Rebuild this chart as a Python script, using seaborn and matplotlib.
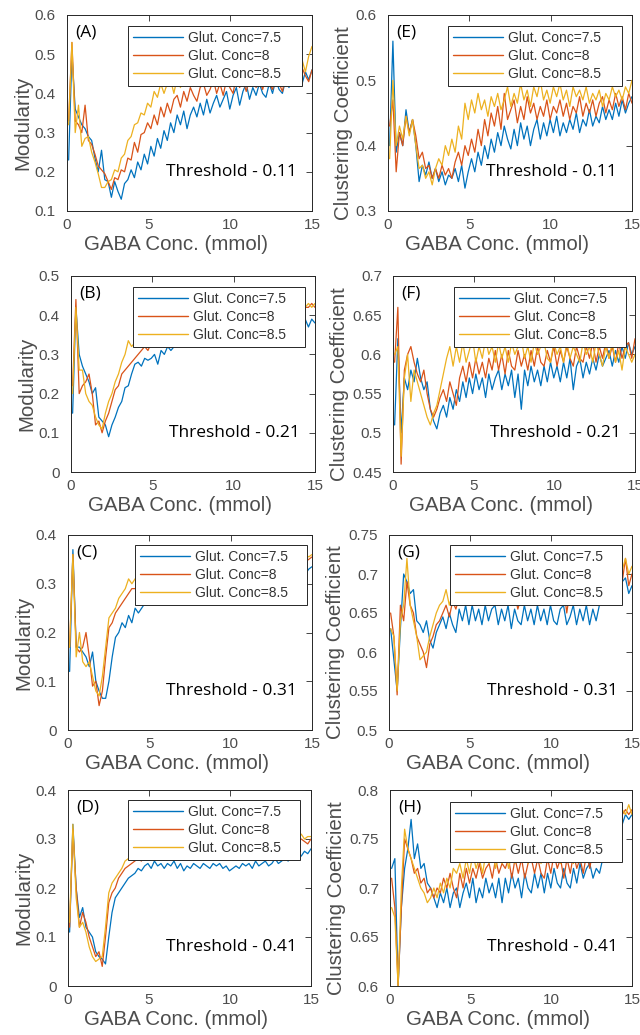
import numpy as np
import pandas as pd
import matplotlib
matplotlib.use("Agg")
import matplotlib.pyplot as plt
import seaborn as sns

sns.set_style("white")
plt.rcParams['font.family'] = ['Liberation Sans', 'DejaVu Sans']

# GABA concentration grid (mmol)
gaba = np.linspace(0.1, 15.0, 75)
glut_labels = ['Glut. Conc=7.5', 'Glut. Conc=8', 'Glut. Conc=8.5']
colors = ['#0072BD', '#D95319', '#EDB120']

# ---- Modularity, threshold 0.11 (A)
mod_011_75 = [0.23, 0.50, 0.36, 0.34, 0.32, 0.31, 0.29, 0.28, 0.235, 0.20, 0.255, 0.18, 0.175, 0.135, 0.175,
              0.15, 0.13, 0.17, 0.18, 0.205, 0.185, 0.225, 0.205, 0.245, 0.22, 0.265, 0.24, 0.285, 0.26, 0.305,
              0.28, 0.325, 0.30, 0.345, 0.32, 0.355, 0.31, 0.345, 0.365, 0.34, 0.375, 0.345, 0.385, 0.35, 0.375,
              0.395, 0.365, 0.385, 0.405, 0.36, 0.395, 0.415, 0.37, 0.405, 0.425, 0.385, 0.415, 0.395, 0.425, 0.40,
              0.39, 0.425, 0.40, 0.435, 0.41, 0.40, 0.435, 0.415, 0.445, 0.42, 0.445, 0.425, 0.455, 0.435, 0.46]
mod_011_80 = [0.33, 0.53, 0.33, 0.32, 0.30, 0.37, 0.28, 0.27, 0.245, 0.215, 0.205, 0.195, 0.175, 0.155, 0.185,
              0.18, 0.205, 0.20, 0.235, 0.23, 0.275, 0.25, 0.295, 0.30, 0.325, 0.31, 0.345, 0.32, 0.365, 0.34,
              0.375, 0.35, 0.385, 0.395, 0.365, 0.405, 0.38, 0.415, 0.395, 0.38, 0.415, 0.425, 0.395, 0.41, 0.435,
              0.40, 0.425, 0.395, 0.435, 0.415, 0.40, 0.445, 0.415, 0.435, 0.405, 0.435, 0.445, 0.415, 0.435, 0.41,
              0.445, 0.425, 0.41, 0.445, 0.425, 0.405, 0.445, 0.425, 0.455, 0.435, 0.42, 0.465, 0.445, 0.43, 0.46]
mod_011_85 = [0.32, 0.53, 0.30, 0.37, 0.265, 0.285, 0.29, 0.25, 0.225, 0.195, 0.16, 0.16, 0.175, 0.18, 0.205,
              0.20, 0.235, 0.245, 0.28, 0.29, 0.32, 0.325, 0.35, 0.345, 0.375, 0.365, 0.405, 0.39, 0.425, 0.40,
              0.425, 0.435, 0.40, 0.44, 0.415, 0.445, 0.42, 0.455, 0.435, 0.42, 0.465, 0.435, 0.455, 0.475, 0.43,
              0.465, 0.44, 0.43, 0.475, 0.44, 0.465, 0.435, 0.475, 0.44, 0.465, 0.485, 0.44, 0.475, 0.45, 0.44,
              0.475, 0.45, 0.485, 0.44, 0.475, 0.455, 0.485, 0.46, 0.45, 0.495, 0.465, 0.485, 0.455, 0.495, 0.52]

# ---- Clustering coefficient, threshold 0.11 (E)
cc_011_75 = [0.40, 0.56, 0.39, 0.42, 0.40, 0.455, 0.42, 0.44, 0.40, 0.345, 0.37, 0.355, 0.375, 0.35, 0.365,
             0.345, 0.36, 0.34, 0.355, 0.35, 0.365, 0.345, 0.37, 0.335, 0.36, 0.38, 0.36, 0.39, 0.37, 0.40,
             0.38, 0.41, 0.39, 0.42, 0.40, 0.43, 0.41, 0.395, 0.425, 0.40, 0.435, 0.41, 0.43, 0.40, 0.425,
             0.44, 0.41, 0.435, 0.415, 0.44, 0.42, 0.445, 0.415, 0.435, 0.42, 0.44, 0.425, 0.45, 0.42, 0.44,
             0.43, 0.455, 0.43, 0.445, 0.435, 0.46, 0.44, 0.455, 0.44, 0.465, 0.445, 0.47, 0.45, 0.465, 0.475]
cc_011_80 = [0.43, 0.47, 0.36, 0.42, 0.40, 0.445, 0.42, 0.44, 0.415, 0.38, 0.39, 0.365, 0.37, 0.35, 0.365,
             0.35, 0.37, 0.355, 0.365, 0.35, 0.375, 0.39, 0.37, 0.40, 0.385, 0.41, 0.39, 0.425, 0.40, 0.44,
             0.415, 0.45, 0.43, 0.46, 0.425, 0.48, 0.44, 0.455, 0.47, 0.435, 0.46, 0.44, 0.475, 0.45, 0.465,
             0.44, 0.46, 0.445, 0.47, 0.44, 0.46, 0.45, 0.47, 0.445, 0.465, 0.44, 0.46, 0.45, 0.475, 0.445,
             0.465, 0.45, 0.47, 0.445, 0.465, 0.475, 0.45, 0.47, 0.455, 0.48, 0.46, 0.475, 0.455, 0.48, 0.465]
cc_011_85 = [0.38, 0.50, 0.40, 0.43, 0.41, 0.445, 0.415, 0.44, 0.40, 0.365, 0.37, 0.35, 0.36, 0.34, 0.365,
             0.38, 0.37, 0.40, 0.385, 0.41, 0.39, 0.43, 0.41, 0.465, 0.44, 0.47, 0.45, 0.48, 0.455, 0.47,
             0.445, 0.475, 0.46, 0.48, 0.455, 0.47, 0.49, 0.46, 0.48, 0.465, 0.495, 0.47, 0.485, 0.46, 0.49,
             0.475, 0.50, 0.47, 0.485, 0.465, 0.49, 0.475, 0.495, 0.47, 0.485, 0.46, 0.49, 0.475, 0.485, 0.47,
             0.49, 0.465, 0.48, 0.47, 0.485, 0.46, 0.48, 0.47, 0.49, 0.475, 0.485, 0.47, 0.49, 0.48, 0.50]

# ---- Modularity, threshold 0.21 (B)
mod_021_75 = [0.15, 0.42, 0.30, 0.27, 0.25, 0.23, 0.20, 0.215, 0.14, 0.13, 0.12, 0.09, 0.12, 0.14, 0.165,
              0.18, 0.215, 0.22, 0.25, 0.275, 0.28, 0.27, 0.29, 0.285, 0.29, 0.30, 0.275, 0.31, 0.30, 0.32,
              0.31, 0.32, 0.33, 0.32, 0.33, 0.34, 0.33, 0.34, 0.35, 0.34, 0.35, 0.34, 0.35, 0.36, 0.35,
              0.36, 0.35, 0.36, 0.37, 0.36, 0.37, 0.36, 0.37, 0.36, 0.37, 0.38, 0.37, 0.36, 0.38, 0.37,
              0.38, 0.37, 0.38, 0.37, 0.38, 0.39, 0.38, 0.37, 0.38, 0.39, 0.38, 0.39, 0.37, 0.39, 0.38]
mod_021_80 = [0.22, 0.44, 0.20, 0.22, 0.23, 0.25, 0.20, 0.12, 0.13, 0.10, 0.13, 0.15, 0.18, 0.21, 0.22,
              0.25, 0.26, 0.27, 0.28, 0.29, 0.30, 0.31, 0.32, 0.31, 0.33, 0.33, 0.34, 0.35, 0.34, 0.36,
              0.35, 0.36, 0.37, 0.36, 0.37, 0.38, 0.37, 0.38, 0.39, 0.38, 0.39, 0.38, 0.39, 0.40, 0.39,
              0.40, 0.39, 0.40, 0.41, 0.40, 0.41, 0.40, 0.41, 0.40, 0.41, 0.42, 0.41, 0.40, 0.41, 0.42,
              0.41, 0.42, 0.41, 0.42, 0.41, 0.42, 0.43, 0.42, 0.41, 0.42, 0.43, 0.42, 0.42, 0.43, 0.42]
mod_021_85 = [0.20, 0.42, 0.26, 0.26, 0.20, 0.18, 0.17, 0.14, 0.12, 0.11, 0.15, 0.18, 0.20, 0.23, 0.25,
              0.28, 0.30, 0.335, 0.32, 0.33, 0.34, 0.33, 0.35, 0.34, 0.36, 0.35, 0.37, 0.36, 0.37, 0.38,
              0.37, 0.38, 0.39, 0.38, 0.39, 0.40, 0.39, 0.40, 0.39, 0.41, 0.40, 0.41, 0.40, 0.41, 0.42,
              0.41, 0.40, 0.41, 0.42, 0.41, 0.42, 0.41, 0.42, 0.43, 0.42, 0.41, 0.42, 0.43, 0.42, 0.43,
              0.42, 0.43, 0.42, 0.43, 0.42, 0.43, 0.42, 0.43, 0.43, 0.42, 0.43, 0.42, 0.43, 0.42, 0.43]

# ---- Clustering coefficient, threshold 0.21 (F)
cc_021_75 = [0.51, 0.62, 0.50, 0.57, 0.555, 0.58, 0.565, 0.595, 0.57, 0.555, 0.565, 0.53, 0.515, 0.505, 0.525,
             0.535, 0.52, 0.545, 0.53, 0.555, 0.54, 0.565, 0.545, 0.57, 0.55, 0.575, 0.555, 0.57, 0.545, 0.575,
             0.555, 0.57, 0.58, 0.555, 0.575, 0.56, 0.58, 0.545, 0.575, 0.53, 0.58, 0.56, 0.585, 0.565, 0.58,
             0.56, 0.585, 0.565, 0.59, 0.57, 0.585, 0.565, 0.59, 0.57, 0.595, 0.555, 0.585, 0.595, 0.57, 0.59,
             0.575, 0.595, 0.58, 0.60, 0.585, 0.595, 0.605, 0.585, 0.605, 0.59, 0.61, 0.595, 0.615, 0.60, 0.61]
cc_021_80 = [0.59, 0.66, 0.46, 0.58, 0.60, 0.61, 0.59, 0.575, 0.565, 0.58, 0.55, 0.53, 0.52, 0.53, 0.545,
             0.555, 0.54, 0.565, 0.55, 0.535, 0.57, 0.585, 0.565, 0.59, 0.57, 0.595, 0.575, 0.59, 0.57, 0.595,
             0.58, 0.605, 0.58, 0.60, 0.575, 0.605, 0.585, 0.58, 0.605, 0.585, 0.60, 0.58, 0.605, 0.585, 0.61,
             0.59, 0.585, 0.605, 0.59, 0.61, 0.585, 0.605, 0.59, 0.61, 0.595, 0.585, 0.61, 0.595, 0.59, 0.61,
             0.595, 0.615, 0.59, 0.61, 0.595, 0.615, 0.595, 0.61, 0.59, 0.615, 0.595, 0.61, 0.615, 0.595, 0.62]
cc_021_85 = [0.60, 0.61, 0.47, 0.57, 0.60, 0.54, 0.58, 0.565, 0.55, 0.535, 0.52, 0.51, 0.525, 0.535, 0.555,
             0.575, 0.595, 0.61, 0.585, 0.61, 0.59, 0.615, 0.59, 0.605, 0.62, 0.59, 0.61, 0.595, 0.62, 0.60,
             0.61, 0.59, 0.615, 0.595, 0.61, 0.59, 0.615, 0.60, 0.61, 0.62, 0.595, 0.61, 0.59, 0.615, 0.60,
             0.61, 0.615, 0.595, 0.59, 0.615, 0.60, 0.61, 0.59, 0.615, 0.595, 0.61, 0.60, 0.59, 0.615, 0.60,
             0.61, 0.59, 0.615, 0.60, 0.585, 0.61, 0.595, 0.615, 0.59, 0.605, 0.58, 0.61, 0.60, 0.59, 0.60]

# ---- Modularity, threshold 0.31 (C)
mod_031_75 = [0.12, 0.37, 0.17, 0.17, 0.16, 0.15, 0.13, 0.16, 0.10, 0.08, 0.065, 0.065, 0.10, 0.15, 0.19,
              0.20, 0.22, 0.21, 0.235, 0.22, 0.25, 0.24, 0.25, 0.26, 0.27, 0.28, 0.27, 0.28, 0.29, 0.28,
              0.29, 0.30, 0.29, 0.30, 0.31, 0.30, 0.31, 0.30, 0.31, 0.32, 0.31, 0.30, 0.31, 0.32, 0.31,
              0.32, 0.31, 0.32, 0.33, 0.32, 0.31, 0.32, 0.33, 0.32, 0.33, 0.32, 0.33, 0.32, 0.33, 0.34,
              0.33, 0.32, 0.33, 0.34, 0.33, 0.34, 0.33, 0.34, 0.33, 0.34, 0.33, 0.34, 0.32, 0.33, 0.335]
mod_031_80 = [0.17, 0.36, 0.17, 0.16, 0.17, 0.20, 0.15, 0.09, 0.10, 0.05, 0.08, 0.15, 0.21, 0.22, 0.24,
              0.25, 0.26, 0.27, 0.28, 0.29, 0.29, 0.30, 0.31, 0.30, 0.31, 0.32, 0.31, 0.32, 0.33, 0.32,
              0.33, 0.32, 0.33, 0.34, 0.33, 0.34, 0.33, 0.34, 0.33, 0.34, 0.35, 0.34, 0.33, 0.34, 0.35,
              0.34, 0.35, 0.34, 0.35, 0.34, 0.35, 0.36, 0.35, 0.34, 0.35, 0.36, 0.35, 0.34, 0.35, 0.36,
              0.35, 0.34, 0.35, 0.36, 0.35, 0.36, 0.35, 0.36, 0.35, 0.34, 0.35, 0.36, 0.345, 0.35, 0.355]
mod_031_85 = [0.17, 0.36, 0.15, 0.20, 0.14, 0.13, 0.14, 0.11, 0.08, 0.07, 0.11, 0.17, 0.23, 0.24, 0.25,
              0.27, 0.28, 0.29, 0.31, 0.30, 0.31, 0.32, 0.31, 0.32, 0.33, 0.32, 0.33, 0.34, 0.33, 0.34,
              0.33, 0.34, 0.35, 0.34, 0.35, 0.34, 0.35, 0.36, 0.35, 0.34, 0.35, 0.36, 0.35, 0.36, 0.35,
              0.36, 0.35, 0.36, 0.35, 0.36, 0.37, 0.36, 0.35, 0.36, 0.37, 0.36, 0.35, 0.36, 0.37, 0.36,
              0.36, 0.37, 0.36, 0.35, 0.36, 0.37, 0.36, 0.37, 0.36, 0.35, 0.36, 0.37, 0.36, 0.355, 0.36]

# ---- Clustering coefficient, threshold 0.31 (G)
cc_031_75 = [0.63, 0.59, 0.55, 0.63, 0.70, 0.69, 0.675, 0.68, 0.64, 0.635, 0.625, 0.64, 0.615, 0.605, 0.625,
             0.635, 0.645, 0.63, 0.65, 0.635, 0.625, 0.655, 0.64, 0.66, 0.635, 0.66, 0.64, 0.655, 0.635, 0.66,
             0.64, 0.655, 0.66, 0.635, 0.655, 0.64, 0.66, 0.63, 0.655, 0.64, 0.635, 0.66, 0.64, 0.655, 0.635,
             0.66, 0.64, 0.655, 0.635, 0.66, 0.64, 0.635, 0.655, 0.66, 0.635, 0.645, 0.66, 0.635, 0.655, 0.64,
             0.66, 0.635, 0.655, 0.64, 0.66, 0.665, 0.675, 0.66, 0.68, 0.665, 0.685, 0.69, 0.695, 0.675, 0.685]
cc_031_80 = [0.65, 0.62, 0.545, 0.66, 0.64, 0.69, 0.66, 0.65, 0.62, 0.61, 0.60, 0.58, 0.61, 0.62, 0.635,
             0.64, 0.65, 0.66, 0.645, 0.665, 0.655, 0.67, 0.66, 0.67, 0.675, 0.66, 0.67, 0.675, 0.665, 0.66,
             0.675, 0.665, 0.68, 0.67, 0.66, 0.675, 0.68, 0.665, 0.675, 0.655, 0.67, 0.68, 0.67, 0.665, 0.68,
             0.67, 0.685, 0.665, 0.68, 0.67, 0.685, 0.675, 0.67, 0.685, 0.65, 0.68, 0.685, 0.67, 0.69, 0.675,
             0.685, 0.67, 0.69, 0.675, 0.685, 0.69, 0.675, 0.695, 0.68, 0.69, 0.70, 0.69, 0.72, 0.685, 0.70]
cc_031_85 = [0.63, 0.62, 0.55, 0.64, 0.66, 0.72, 0.66, 0.64, 0.62, 0.59, 0.595, 0.60, 0.62, 0.635, 0.65,
             0.66, 0.665, 0.68, 0.66, 0.675, 0.67, 0.685, 0.67, 0.68, 0.69, 0.675, 0.67, 0.69, 0.675, 0.69,
             0.68, 0.675, 0.695, 0.68, 0.675, 0.695, 0.68, 0.70, 0.675, 0.69, 0.68, 0.695, 0.70, 0.68, 0.69,
             0.70, 0.68, 0.695, 0.70, 0.685, 0.705, 0.68, 0.70, 0.685, 0.705, 0.69, 0.685, 0.705, 0.69, 0.70,
             0.69, 0.705, 0.685, 0.71, 0.69, 0.70, 0.71, 0.69, 0.70, 0.715, 0.68, 0.705, 0.72, 0.70, 0.71]

# ---- Modularity, threshold 0.41 (D)
mod_041_75 = [0.11, 0.33, 0.20, 0.14, 0.16, 0.12, 0.11, 0.10, 0.07, 0.06, 0.055, 0.045, 0.10, 0.15, 0.18,
              0.19, 0.20, 0.21, 0.22, 0.225, 0.23, 0.24, 0.235, 0.245, 0.25, 0.24, 0.255, 0.245, 0.25, 0.24,
              0.25, 0.245, 0.255, 0.24, 0.25, 0.235, 0.245, 0.24, 0.25, 0.245, 0.24, 0.25, 0.245, 0.24, 0.25,
              0.245, 0.25, 0.24, 0.245, 0.235, 0.24, 0.245, 0.24, 0.25, 0.245, 0.25, 0.24, 0.255, 0.245, 0.25,
              0.255, 0.245, 0.25, 0.26, 0.25, 0.255, 0.26, 0.255, 0.265, 0.26, 0.27, 0.265, 0.275, 0.27, 0.28]
mod_041_80 = [0.12, 0.32, 0.20, 0.12, 0.15, 0.13, 0.10, 0.08, 0.06, 0.07, 0.04, 0.10, 0.17, 0.19, 0.20,
              0.22, 0.23, 0.24, 0.245, 0.25, 0.255, 0.26, 0.255, 0.265, 0.26, 0.27, 0.265, 0.27, 0.275, 0.27,
              0.275, 0.27, 0.28, 0.275, 0.27, 0.28, 0.275, 0.28, 0.27, 0.28, 0.285, 0.275, 0.28, 0.285, 0.28,
              0.285, 0.28, 0.29, 0.285, 0.28, 0.29, 0.285, 0.29, 0.28, 0.29, 0.285, 0.29, 0.295, 0.285, 0.29,
              0.295, 0.29, 0.285, 0.295, 0.29, 0.30, 0.29, 0.295, 0.30, 0.29, 0.295, 0.30, 0.295, 0.29, 0.30]
mod_041_85 = [0.13, 0.33, 0.18, 0.12, 0.13, 0.11, 0.08, 0.06, 0.05, 0.055, 0.06, 0.12, 0.19, 0.21, 0.22,
              0.23, 0.24, 0.255, 0.26, 0.265, 0.26, 0.27, 0.265, 0.275, 0.27, 0.28, 0.275, 0.28, 0.285, 0.28,
              0.285, 0.28, 0.29, 0.285, 0.28, 0.29, 0.285, 0.29, 0.295, 0.285, 0.29, 0.295, 0.29, 0.285, 0.295,
              0.29, 0.295, 0.29, 0.30, 0.29, 0.295, 0.30, 0.29, 0.295, 0.30, 0.295, 0.29, 0.30, 0.295, 0.30,
              0.295, 0.30, 0.295, 0.305, 0.295, 0.30, 0.305, 0.295, 0.30, 0.305, 0.30, 0.31, 0.30, 0.305, 0.305]

# ---- Clustering coefficient, threshold 0.41 (H)
cc_041_75 = [0.72, 0.73, 0.60, 0.68, 0.72, 0.74, 0.77, 0.73, 0.745, 0.72, 0.725, 0.705, 0.70, 0.69, 0.68,
             0.695, 0.685, 0.70, 0.68, 0.695, 0.70, 0.68, 0.695, 0.705, 0.69, 0.71, 0.685, 0.70, 0.69, 0.71,
             0.695, 0.705, 0.69, 0.71, 0.685, 0.71, 0.695, 0.715, 0.70, 0.71, 0.69, 0.715, 0.70, 0.695, 0.715,
             0.70, 0.715, 0.695, 0.715, 0.70, 0.72, 0.705, 0.70, 0.72, 0.705, 0.70, 0.72, 0.705, 0.725, 0.71,
             0.72, 0.725, 0.71, 0.72, 0.715, 0.73, 0.735, 0.74, 0.75, 0.755, 0.76, 0.765, 0.775, 0.77, 0.775]
cc_041_80 = [0.71, 0.68, 0.60, 0.68, 0.75, 0.74, 0.73, 0.715, 0.72, 0.705, 0.71, 0.695, 0.70, 0.69, 0.70,
             0.695, 0.71, 0.70, 0.715, 0.70, 0.69, 0.715, 0.70, 0.72, 0.705, 0.72, 0.71, 0.725, 0.71, 0.72,
             0.725, 0.71, 0.73, 0.715, 0.725, 0.72, 0.73, 0.71, 0.73, 0.715, 0.73, 0.71, 0.725, 0.73, 0.715,
             0.73, 0.715, 0.71, 0.73, 0.715, 0.735, 0.72, 0.73, 0.71, 0.73, 0.715, 0.735, 0.72, 0.73, 0.715,
             0.735, 0.72, 0.74, 0.73, 0.745, 0.735, 0.75, 0.75, 0.76, 0.76, 0.77, 0.775, 0.78, 0.775, 0.78]
cc_041_85 = [0.68, 0.67, 0.60, 0.70, 0.76, 0.74, 0.73, 0.72, 0.71, 0.70, 0.695, 0.685, 0.69, 0.70, 0.69,
             0.705, 0.695, 0.71, 0.70, 0.72, 0.715, 0.725, 0.71, 0.73, 0.715, 0.735, 0.72, 0.73, 0.715, 0.735,
             0.725, 0.74, 0.72, 0.735, 0.725, 0.74, 0.72, 0.735, 0.725, 0.74, 0.73, 0.745, 0.725, 0.74, 0.73,
             0.745, 0.725, 0.74, 0.73, 0.745, 0.73, 0.74, 0.725, 0.745, 0.73, 0.74, 0.725, 0.745, 0.73, 0.74,
             0.735, 0.745, 0.73, 0.75, 0.74, 0.755, 0.75, 0.76, 0.765, 0.77, 0.775, 0.78, 0.775, 0.785, 0.775]

W, H = 640, 1035
fig = plt.figure(figsize=(W / 100, H / 100), dpi=100)

def px_axes(left, right, top, bottom):
    return fig.add_axes([left / W, 1 - bottom / H, (right - left) / W, (bottom - top) / H])

# (panel letter, series, ylabel, ylim, yticks, threshold, axes box px, legend box px)
panels = [
    ('(A)', [mod_011_75, mod_011_80, mod_011_85], 'Modularity', (0.1, 0.6), np.arange(0.1, 0.61, 0.1), '0.11',
     (67, 312, 15, 211), (128, 302, 26)),
    ('(E)', [cc_011_75, cc_011_80, cc_011_85], 'Clustering Coefficient', (0.3, 0.6), np.arange(0.3, 0.61, 0.1), '0.11',
     (388, 632, 15, 211), (448, 622, 26)),
    ('(B)', [mod_021_75, mod_021_80, mod_021_85], 'Modularity', (0, 0.5), np.arange(0, 0.51, 0.1), '0.21',
     (71, 315, 276, 472), (133, 305, 287)),
    ('(F)', [cc_021_75, cc_021_80, cc_021_85], 'Clustering Coefficient', (0.45, 0.7), np.arange(0.45, 0.71, 0.05), '0.21',
     (393, 635, 276, 472), (454, 626, 287)),
    ('(C)', [mod_031_75, mod_031_80, mod_031_85], 'Modularity', (0, 0.4), np.arange(0, 0.41, 0.1), '0.31',
     (68, 312, 535, 730), (135, 307, 545)),
    ('(G)', [cc_031_75, cc_031_80, cc_031_85], 'Clustering Coefficient', (0.5, 0.75), np.arange(0.5, 0.76, 0.05), '0.31',
     (389, 632, 535, 730), (450, 622, 545)),
    ('(D)', [mod_041_75, mod_041_80, mod_041_85], 'Modularity', (0, 0.4), np.arange(0, 0.41, 0.1), '0.41',
     (68, 311, 790, 986), (128, 300, 800)),
    ('(H)', [cc_041_75, cc_041_80, cc_041_85], 'Clustering Coefficient', (0.6, 0.8), np.arange(0.6, 0.81, 0.05), '0.41',
     (390, 632, 790, 986), (450, 622, 802)),
]

grey = '#262626'
for letter, series, ylab, ylim, yticks, thr, box, leg in panels:
    l, r, t, b = box
    ax = px_axes(l, r, t, b)
    for vals, lab, c in zip(series, glut_labels, colors):
        sns.lineplot(x=gaba, y=vals, color=c, label=lab, ax=ax, linewidth=0.9)
    ax.set_xlim(0, 15)
    ax.set_ylim(*ylim)
    ax.set_xticks([0, 5, 10, 15])
    ax.set_yticks(yticks)
    ax.set_yticklabels([f'{v:g}' for v in np.round(yticks, 2)])
    ax.tick_params(direction='in', length=4, width=0.6, top=True, right=True,
                   labelsize=11, colors=grey, labelcolor='#4d4d4d')
    ax.tick_params(axis='y', pad=8)
    ax.tick_params(axis='x', pad=5)
    for s in ax.spines.values():
        s.set_color(grey)
        s.set_linewidth(0.7)
    ax.set_xlabel('GABA Conc. (mmol)', fontsize=14.8, color='#4d4d4d', labelpad=2)
    ax.set_ylabel(ylab, fontsize=14.8, color='#4d4d4d', labelpad=2)
    # labels sit slightly off-centre in the original
    ax.xaxis.label.set_x(0.5 - 13 / (r - l))
    ax.yaxis.label.set_y(0.5 - 10 / (b - t))
    ax.text(0.035, 0.91, letter, transform=ax.transAxes, fontsize=12.5,
            family=['Open Sans', 'DejaVu Sans'], color='black', va='center', ha='left')
    ax.text(0.94, 0.2, 'Threshold - ' + thr, transform=ax.transAxes, fontsize=12.5,
            family=['Open Sans', 'DejaVu Sans'], color='black', va='center', ha='right')
    lx0, lx1, ly0 = leg
    bx = (lx0 - l) / (r - l)
    bw = (lx1 - lx0) / (r - l)
    by = (b - ly0) / (b - t)
    lg = ax.legend(loc='upper left', bbox_to_anchor=(bx, by - 0.5, bw, 0.5), mode='expand',
                   borderaxespad=0, fontsize=10, frameon=True, fancybox=False,
                   handlelength=3.6, handletextpad=0.4, labelspacing=0.3, borderpad=0.35)
    lg.get_frame().set_edgecolor(grey)
    lg.get_frame().set_linewidth(0.7)
    lg.get_frame().set_alpha(1)
    for txt in lg.get_texts():
        txt.set_color('#333333')
    for ln in lg.get_lines():
        ln.set_linewidth(1.0)

fig.savefig('out.png', dpi=100)
